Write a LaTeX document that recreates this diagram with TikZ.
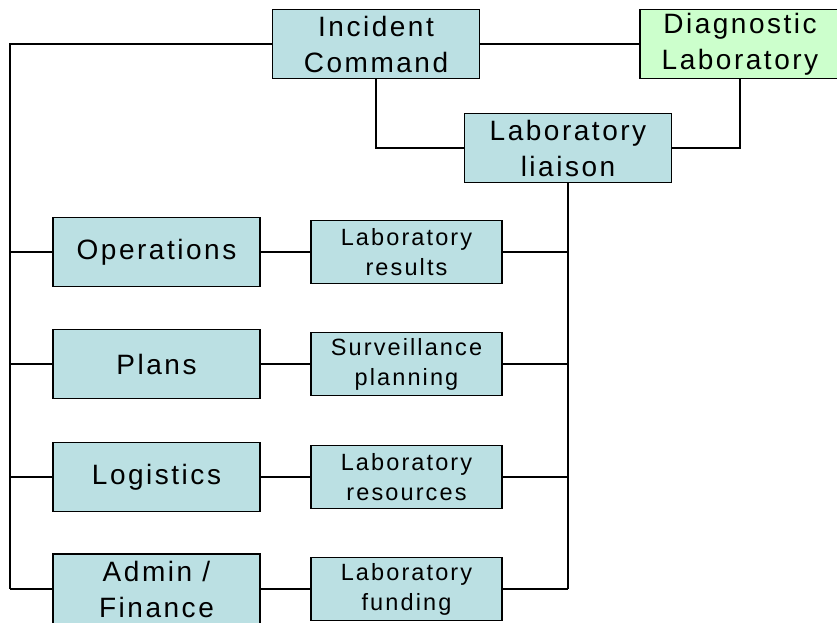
\documentclass[tikz,border=0pt]{standalone}
\usepackage{fontspec}
\setmainfont{Liberation Sans}[LetterSpace=9]
\usepackage{tikz}
\usetikzlibrary{calc}
\usepackage{xcolor}
\definecolor{box-blue}{RGB}{187,224,227}
\definecolor{box-green}{RGB}{204,255,204}
\tikzstyle{unitbox}=[draw, line width=1.2pt, fill=box-blue, align=center, inner sep=0pt]
\tikzstyle{bigbox}=[unitbox, minimum width=207pt, minimum height=69pt, font=\fontsize{28}{36}\selectfont]
\tikzstyle{smallbox}=[unitbox, minimum width=191pt, minimum height=63pt, font=\fontsize{23.5}{30}\selectfont]
\tikzstyle{link}=[line width=1.5pt]

\begin{document}
\begin{tikzpicture}[x=1pt,y=-1pt]
	\useasboundingbox (0,0) rectangle (837,623);
	\clip (0,0) rectangle (837,623);
	\node[bigbox] (ic) at (376,44) {Incident\\Command};
	\node[bigbox, fill=box-green, minimum width=200pt] (diag) at (740,44) {Diagnostic\\Laboratory};
	\node[bigbox] (liaison) at (568,148) {Laboratory\\liaison};
	\node[bigbox] (ops) at (156.5,252) {Operations};
	\node[bigbox] (plans) at (156.5,364) {Plans};
	\node[bigbox] (logi) at (156.5,477) {Logistics};
	\node[bigbox, minimum height=70pt] (admin) at (156.5,589) {Admin /\\Finance};
	\node[smallbox] (labres) at (406.5,252) {Laboratory\\results};
	\node[smallbox] (surv) at (406.5,364) {Surveillance\\planning};
	\node[smallbox] (resrc) at (406.5,477) {Laboratory\\resources};
	\node[smallbox] (fund) at (406.5,589) {Laboratory\\funding};
	\coordinate (lt) at (10,44);
	\coordinate (lb) at (10,589);
	% trunks
	\draw[link] (ic.west) -- (lt) -- (lb);
	\draw[link] (ic.east) -- (diag.west);
	\draw[link] (ic.south) |- (liaison.west);
	\draw[link] (diag.south) |- (liaison.east);
	\draw[link] (liaison.south) -- (liaison.south |- fund.east);
	% rows
	\foreach \a/\b in {ops/labres,plans/surv,logi/resrc,admin/fund}{
		\draw[link] (lt |- \a.west) -- (\a.west);
		\draw[link] (\a.east) -- (\b.west);
		\draw[link] (\b.east) -- (liaison.south |- \b.east);
	}
\end{tikzpicture}
\end{document}
